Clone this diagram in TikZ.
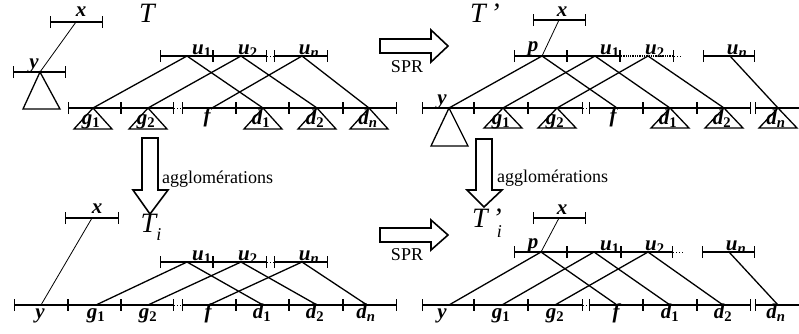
\documentclass[tikz,border=0pt]{standalone}
\usepackage{fontspec}
\setmainfont{Liberation Serif}
\usetikzlibrary{arrows.meta}
\newcommand\mysub[1]{\textsubscript{#1}}
\begin{document}
\begin{tikzpicture}[x=1pt,y=-1pt,
 seg/.style={line width=1.3pt,{Bar[width=12pt]}-{Bar[width=12pt]}},
 segl/.style={line width=1.3pt,{Bar[width=12pt]}-},
 lnk/.style={line width=1.3pt},
 thinlnk/.style={line width=0.8pt},
 dotseg/.style={line width=1pt,dotted},
 tri/.style={line width=1.3pt,fill=white,line join=miter},
 lab/.style={font=\fontsize{21}{21}\selectfont\bfseries\itshape,inner sep=0pt,anchor=base},
 big/.style={font=\fontsize{28}{28}\selectfont\itshape,inner sep=0pt,anchor=base},
 txt/.style={font=\fontsize{18}{18}\selectfont,inner sep=0pt},
 bigarrow/.style={line width=1.6pt,fill=white,line join=miter}
]
\useasboundingbox (0,0) rectangle (799,333);

% ================= Panel A (T) =================
\coordinate (A-xl) at (50,22); \coordinate (A-xr) at (103,22); \coordinate (A-x) at (76,22);
\coordinate (A-yl) at (13,72); \coordinate (A-yr) at (66,72); \coordinate (A-y) at (40,72);
\foreach \n/\xx in {0/160,1/213,2/267,3/274,4/328} \coordinate (A-u\n t) at (\xx,56);
\coordinate (A-u1) at (187,56); \coordinate (A-u2) at (241,56); \coordinate (A-un) at (302,56);
\foreach \n/\xx in {0/68,1/121,2/174,3/182,4/236,5/289,6/343,7/397} \coordinate (A-b\n) at (\xx,108);
\coordinate (A-g1) at (93,108); \coordinate (A-g2) at (148,108); \coordinate (A-f) at (212,108);
\coordinate (A-d1) at (263,108); \coordinate (A-d2) at (317,108); \coordinate (A-dn) at (369,108);

\draw[seg] (A-xl) -- (A-xr);
\draw[seg] (A-yl) -- (A-yr);
\draw[thinlnk] (A-x) -- (A-y);
\draw[tri] (A-y) -- (23,109) -- (60,109) -- cycle;
\draw[seg] (A-u0t) -- (A-u1t); \draw[seg] (A-u1t) -- (A-u2t); \draw[dotseg] (A-u2t) -- (A-u3t); \draw[seg] (A-u3t) -- (A-u4t);
\draw[seg] (A-b0) -- (A-b1); \draw[seg] (A-b1) -- (A-b2); \draw[dotseg] (A-b2) -- (A-b3);
\draw[seg] (A-b3) -- (A-b4); \draw[seg] (A-b4) -- (A-b5); \draw[seg] (A-b5) -- (A-b6); \draw[seg] (A-b6) -- (A-b7);
\draw[lnk] (A-g1) -- (A-u1) -- (A-d1);
\draw[lnk] (A-g2) -- (A-u2) -- (A-d2);
\draw[lnk] (A-f) -- (A-un) -- (A-dn);
\foreach \p in {g1,g2,d1,d2,dn} \draw[tri] (A-\p) -- ++(-19,21) -- ++(38,0) -- cycle;
\node[lab] (A-lx) at (81,16) {x};
\node[lab] (A-ly) at (34,68) {y};
\node[big] (A-lT) at (147,22) {T};
\node[lab] (A-lu1) at (202,54) {u\mysub{\upshape 1}};
\node[lab] (A-lu2) at (248,54) {u\mysub{\upshape 2}};
\node[lab] (A-lun) at (309,54) {u\mysub{n}};
\node[lab] (A-lg1) at (91,124) {g\mysub{\upshape 1}};
\node[lab] (A-lg2) at (146,124) {g\mysub{\upshape 2}};
\node[lab] (A-lf) at (207,122) {f};
\node[lab] (A-ld1) at (261,124) {d\mysub{\upshape 1}};
\node[lab] (A-ld2) at (315,124) {d\mysub{\upshape 2}};
\node[lab] (A-ldn) at (368,124) {d\mysub{n}};

% ================= Panel B (T') =================
\coordinate (B-xl) at (533,20); \coordinate (B-xr) at (586,20); \coordinate (B-x) at (559,20);
\foreach \n/\xx in {0/514,1/567,2/620,3/674,4/703,5/755} \coordinate (B-r\n) at (\xx,56);
\coordinate (B-re) at (683,56);
\coordinate (B-p) at (542,56); \coordinate (B-u1) at (595,56); \coordinate (B-u2) at (648,56); \coordinate (B-un) at (730,56);
\foreach \n/\xx in {0/422,1/474,2/528,3/583,4/589,5/643,6/697,7/751,8/755,9/799} \coordinate (B-b\n) at (\xx,108);
\coordinate (B-y) at (449,108); \coordinate (B-g1) at (503,108); \coordinate (B-g2) at (557,108); \coordinate (B-f) at (617,108);
\coordinate (B-d1) at (670,108); \coordinate (B-d2) at (724,108); \coordinate (B-dn) at (778,108);

\draw[seg] (B-xl) -- (B-xr);
\draw[thinlnk] (B-x) -- (B-p);
\draw[seg] (B-r0) -- (B-r1); \draw[seg] (B-r1) -- (B-r2);
\draw[line width=1.3pt,{Bar[width=12pt]}-{Bar[width=12pt]},densely dotted] (B-r2) -- (B-r3);
\draw[dotseg] (B-r3) -- (B-re);
\draw[seg] (B-r4) -- (B-r5);
\draw[seg] (B-b0) -- (B-b1); \draw[seg] (B-b1) -- (B-b2); \draw[seg] (B-b2) -- (B-b3); \draw[dotseg] (B-b3) -- (B-b4);
\draw[seg] (B-b4) -- (B-b5); \draw[seg] (B-b5) -- (B-b6); \draw[seg] (B-b6) -- (B-b7); \draw[segl] (B-b8) -- (B-b9);
\draw[lnk] (B-y) -- (B-p) -- (B-f);
\draw[lnk] (B-g1) -- (B-u1) -- (B-d1);
\draw[lnk] (B-g2) -- (B-u2) -- (B-d2);
\draw[lnk] (B-un) -- (B-dn);
\draw[tri] (B-y) -- (431,146) -- (468,146) -- cycle;
\foreach \p in {g1,g2,d1,d2,dn} \draw[tri] (B-\p) -- ++(-19,20) -- ++(38,0) -- cycle;
\node[lab] (B-lx) at (562,16) {x};
\node[lab] (B-ly) at (442,104) {y};
\node[big] (B-lT) at (485,22) {T\,’};
\node[lab] (B-lp) at (533,51) {p};
\node[lab] (B-lu1) at (610,54) {u\mysub{\upshape 1}};
\node[lab] (B-lu2) at (655,54) {u\mysub{\upshape 2}};
\node[lab] (B-lun) at (737,54) {u\mysub{n}};
\node[lab] (B-lg1) at (501,124) {g\mysub{\upshape 1}};
\node[lab] (B-lg2) at (555,124) {g\mysub{\upshape 2}};
\node[lab] (B-lf) at (613,122) {f};
\node[lab] (B-ld1) at (668,124) {d\mysub{\upshape 1}};
\node[lab] (B-ld2) at (722,124) {d\mysub{\upshape 2}};
\node[lab] (B-ldn) at (776,124) {d\mysub{n}};

% ================= Panel C (T_i) =================
\coordinate (C-xl) at (65,218); \coordinate (C-xr) at (119,218); \coordinate (C-x) at (92,218);
\foreach \n/\xx in {0/160,1/213,2/267,3/274,4/328} \coordinate (C-u\n t) at (\xx,262);
\coordinate (C-u1) at (187,262); \coordinate (C-u2) at (241,262); \coordinate (C-un) at (302,262);
\foreach \n/\xx in {9/14,0/68,1/121,2/174,3/182,4/236,5/289,6/343,7/397} \coordinate (C-b\n) at (\xx,305);
\coordinate (C-y) at (41,305); \coordinate (C-g1) at (96,305); \coordinate (C-g2) at (148,305); \coordinate (C-f) at (209,305);
\coordinate (C-d1) at (263,305); \coordinate (C-d2) at (317,305); \coordinate (C-dn) at (367,305);

\draw[seg] (C-xl) -- (C-xr);
\draw[thinlnk] (C-x) -- (C-y);
\draw[seg] (C-u0t) -- (C-u1t); \draw[seg] (C-u1t) -- (C-u2t); \draw[dotseg] (C-u2t) -- (C-u3t); \draw[seg] (C-u3t) -- (C-u4t);
\draw[seg] (C-b9) -- (C-b0); \draw[seg] (C-b0) -- (C-b1); \draw[seg] (C-b1) -- (C-b2); \draw[dotseg] (C-b2) -- (C-b3);
\draw[seg] (C-b3) -- (C-b4); \draw[seg] (C-b4) -- (C-b5); \draw[seg] (C-b5) -- (C-b6); \draw[seg] (C-b6) -- (C-b7);
\draw[lnk] (C-g1) -- (C-u1) -- (C-d1);
\draw[lnk] (C-g2) -- (C-u2) -- (C-d2);
\draw[lnk] (C-f) -- (C-un) -- (C-dn);
\node[lab] (C-lx) at (97,213) {x};
\node[big] (C-lT) at (151,232) {T\raisebox{-8pt}{\fontsize{18}{18}\selectfont i}};
\node[lab] (C-lu1) at (202,260) {u\mysub{\upshape 1}};
\node[lab] (C-lu2) at (248,260) {u\mysub{\upshape 2}};
\node[lab] (C-lun) at (309,260) {u\mysub{n}};
\node[lab] (C-ly) at (40,318) {y};
\node[lab] (C-lg1) at (96,318) {g\mysub{\upshape 1}};
\node[lab] (C-lg2) at (148,318) {g\mysub{\upshape 2}};
\node[lab] (C-lf) at (208,318) {f};
\node[lab] (C-ld1) at (262,318) {d\mysub{\upshape 1}};
\node[lab] (C-ld2) at (315,318) {d\mysub{\upshape 2}};
\node[lab] (C-ldn) at (366,318) {d\mysub{n}};

% ================= Panel D (T'_i) =================
\coordinate (D-xl) at (533,218); \coordinate (D-xr) at (586,218); \coordinate (D-x) at (559,218);
\foreach \n/\xx in {0/514,1/567,2/621,3/673,4/702,5/755} \coordinate (D-r\n) at (\xx,252);
\coordinate (D-re) at (683,252);
\coordinate (D-p) at (541,252); \coordinate (D-u1) at (594,252); \coordinate (D-u2) at (648,252); \coordinate (D-un) at (729,252);
\foreach \n/\xx in {0/422,1/474,2/528,3/583,4/589,5/643,6/697,7/751,8/755,9/799} \coordinate (D-b\n) at (\xx,305);
\coordinate (D-y) at (449,305); \coordinate (D-g1) at (502,305); \coordinate (D-g2) at (555,305); \coordinate (D-f) at (617,305);
\coordinate (D-d1) at (670,305); \coordinate (D-d2) at (723,305); \coordinate (D-dn) at (778,305);

\draw[seg] (D-xl) -- (D-xr);
\draw[thinlnk] (D-x) -- (D-p);
\draw[seg] (D-r0) -- (D-r1); \draw[seg] (D-r1) -- (D-r2); \draw[seg] (D-r2) -- (D-r3);
\draw[dotseg] (D-r3) -- (D-re);
\draw[seg] (D-r4) -- (D-r5);
\draw[seg] (D-b0) -- (D-b1); \draw[seg] (D-b1) -- (D-b2); \draw[seg] (D-b2) -- (D-b3); \draw[dotseg] (D-b3) -- (D-b4);
\draw[seg] (D-b4) -- (D-b5); \draw[seg] (D-b5) -- (D-b6); \draw[seg] (D-b6) -- (D-b7); \draw[segl] (D-b8) -- (D-b9);
\draw[lnk] (D-y) -- (D-p) -- (D-f);
\draw[lnk] (D-g1) -- (D-u1) -- (D-d1);
\draw[lnk] (D-g2) -- (D-u2) -- (D-d2);
\draw[lnk] (D-un) -- (D-dn);
\node[lab] (D-lx) at (562,214) {x};
\node[big] (D-lT) at (487,227) {T\,’\llap{\raisebox{-10pt}{\fontsize{18}{18}\selectfont i}}};
\node[lab] (D-lp) at (533,248) {p};
\node[lab] (D-lu1) at (610,250) {u\mysub{\upshape 1}};
\node[lab] (D-lu2) at (655,250) {u\mysub{\upshape 2}};
\node[lab] (D-lun) at (736,250) {u\mysub{n}};
\node[lab] (D-ly) at (442,318) {y};
\node[lab] (D-lg1) at (501,318) {g\mysub{\upshape 1}};
\node[lab] (D-lg2) at (555,318) {g\mysub{\upshape 2}};
\node[lab] (D-lf) at (616,318) {f};
\node[lab] (D-ld1) at (670,318) {d\mysub{\upshape 1}};
\node[lab] (D-ld2) at (723,318) {d\mysub{\upshape 2}};
\node[lab] (D-ldn) at (776,318) {d\mysub{n}};

% ================= Big arrows =================
\draw[bigarrow] (380,39) -- (431,39) -- (431,30) -- (448,46) -- (431,62) -- (431,53) -- (380,53) -- cycle;
\node[txt] (spr1) at (407,67) {SPR};
\draw[bigarrow] (380,228) -- (431,228) -- (431,220) -- (448,235) -- (431,250) -- (431,242) -- (380,242) -- cycle;
\node[txt] (spr2) at (407,255) {SPR};
\draw[bigarrow] (142,138) -- (158,138) -- (158,190) -- (168,190) -- (150,214) -- (133,190) -- (142,190) -- cycle;
\node[txt,anchor=west] (agg1) at (162,179) {agglomérations};
\draw[bigarrow] (476,139) -- (492,139) -- (492,190) -- (502,190) -- (484,207) -- (467,190) -- (476,190) -- cycle;
\node[txt,anchor=west] (agg2) at (497,178) {agglomérations};
\end{tikzpicture}
\end{document}
